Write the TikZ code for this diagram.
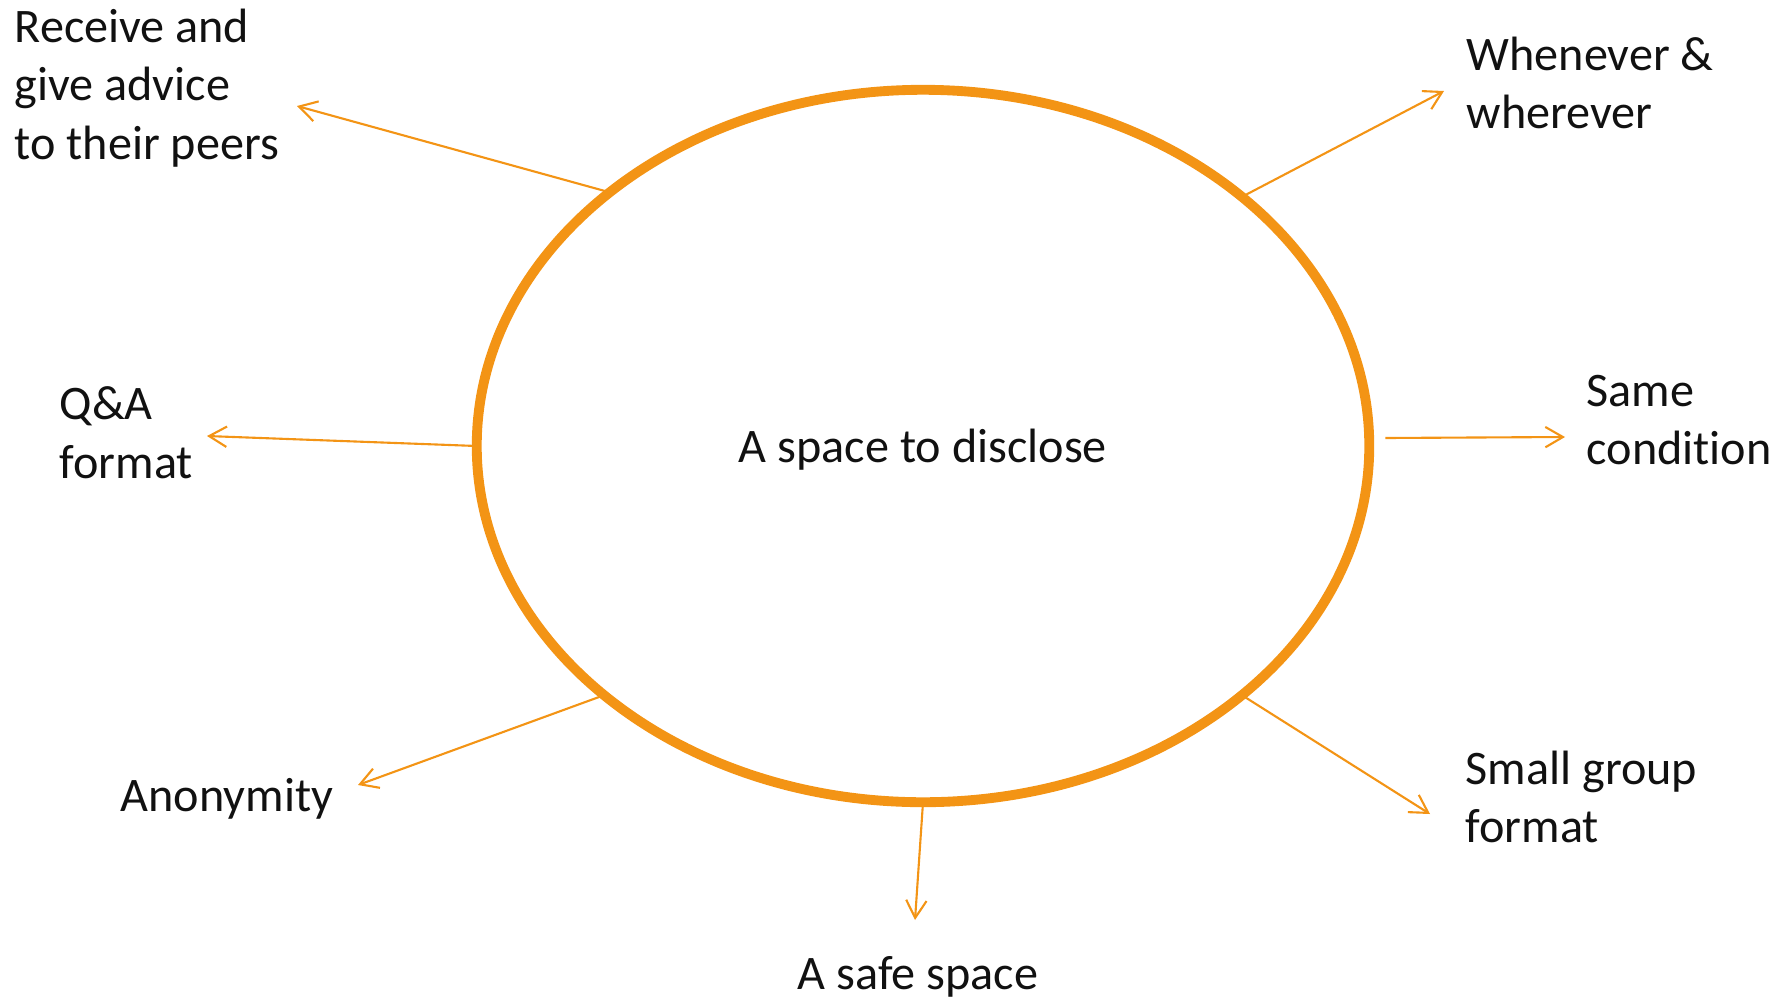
\documentclass[tikz,border=0pt]{standalone}
\usepackage{fontspec}
\setmainfont{Carlito}[Ligatures=NoCommon]
\definecolor{ringOrange}{HTML}{F39415}
\definecolor{textBlack}{HTML}{111111}
\usetikzlibrary{arrows.meta, shapes.geometric}

\begin{document}
\begin{tikzpicture}[
    x=0.01cm, y=-0.01cm,
    hub/.style={ellipse, draw=ringOrange, line width=2.8pt, minimum width=8.92cm, minimum height=7.12cm, inner sep=0pt, outer sep=0pt, font=\fontsize{13.7}{16.7}\selectfont, text=textBlack, text depth=0pt},
    tag/.style={anchor=west, align=left, inner sep=0pt, font=\fontsize{13.7}{16.7}\selectfont, text=textBlack},
    arr/.style={-{Straight Barb[length=5pt, width=5.8pt]}, line width=0.6pt, ringOrange}
]
\useasboundingbox (0,0) rectangle (1789,1000);

% Centre
\node[hub] (hub) at (923,446) {A space to disclose};

% Labels
\node[tag] (advice) at (14,88) {Receive and\\give advice\\to their peers};
\node[tag] (anytime) at (1466,83) {Whenever \&\\wherever};
\node[tag] (qanda) at (59,433) {Q\&A\\format};
\node[tag] (same) at (1586,420) {Same\\condition};
\node[tag] (anon) at (120,799) {Anonymity};
\node[tag] (group) at (1465,797) {Small group\\format};
\node[tag, anchor=center] (safe) at (918,977) {A safe space};

% Arrow ends
\coordinate (tipAdvice) at (297,106);
\coordinate (tipAnytime) at (1444,91);
\coordinate (tipQanda) at (207,436);
\coordinate (tipSame) at (1565,437);
\coordinate (tipAnon) at (358,785);
\coordinate (tipGroup) at (1430,814);
\coordinate (tipSafe) at (915,920);

% Arrows
\draw[arr] (hub.141.8) -- (tipAdvice);
\draw[arr] (hub.38.5) -- (tipAnytime);
\draw[arr] (hub.west) -- (tipQanda);
\draw[arr] ([xshift=0.16cm, yshift=0.08cm]hub.east) -- (tipSame);
\draw[arr] (hub.218.4) -- (tipAnon);
\draw[arr] (hub.-38.4) -- (tipGroup);
\draw[arr] (hub.south) -- (tipSafe);

\end{tikzpicture}
\end{document}
